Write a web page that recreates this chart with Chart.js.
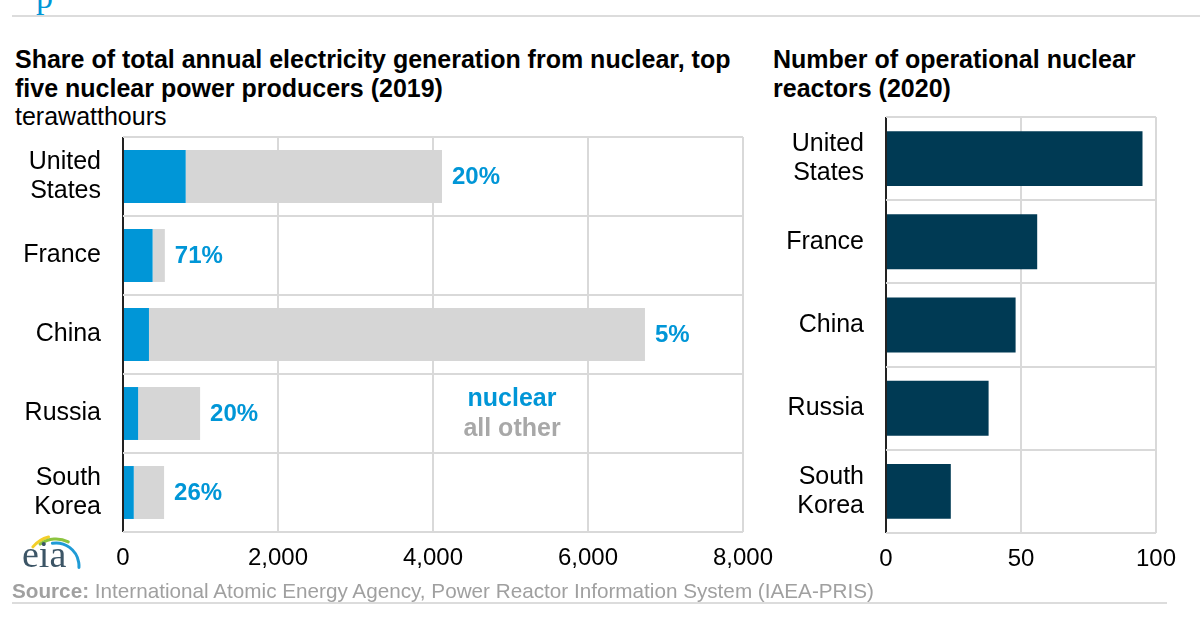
<!DOCTYPE html>
<html>
<head>
<meta charset="utf-8">
<script src="https://cdn.jsdelivr.net/npm/chart.js@4"></script>
<style>
  body { margin: 0; width: 1200px; height: 620px; background: #fff; position: relative; overflow: hidden;
         font-family: "Liberation Sans", Arial, sans-serif; }
  .abs { position: absolute; white-space: nowrap; }
  .title { font-weight: bold; font-size: 25px; line-height: 29px; color: #000; }
  canvas { position: absolute; }
</style>
</head>
<body>

<div class="abs" style="left:36px; top:-22px; font-family:'Liberation Serif',serif; font-size:34px; color:#0096d7;">p</div>
<div class="abs" style="left:12px; top:15px; width:1188px; height:2px; background:#dcdcdc;"></div>

<div class="abs title" style="left:15px; top:45px;">Share of total annual electricity generation from nuclear, top<br>five nuclear power producers (2019)</div>
<div class="abs" style="left:15px; top:102px; font-size:25px; line-height:29px;">terawatthours</div>

<div class="abs title" style="left:773px; top:45px;">Number of operational nuclear<br>reactors (2020)</div>

<canvas id="shareChart" width="780" height="460" style="left:0; top:130px;"></canvas>
<canvas id="reactorChart" width="430" height="480" style="left:770px; top:110px;"></canvas>

<div class="abs" style="left:412px; top:382px; width:200px; text-align:center; font-weight:bold; font-size:25px; line-height:30px;">
  <span style="color:#0096d7;">nuclear</span><br><span style="color:#a8a8a8;">all other</span>
</div>

<canvas id="eiaLogo" width="80" height="56" style="left:10px; top:522px;"></canvas>

<div class="abs" style="left:12px; top:579px; font-size:20.7px; color:#a0a0a0;"><b>Source:</b> International Atomic Energy Agency, Power Reactor Information System (IAEA-PRIS)</div>
<div class="abs" style="left:12px; top:602px; width:1155px; height:2px; background:#dcdcdc;"></div>

<script>
const COUNTRIES = [['United', 'States'], 'France', 'China', 'Russia', ['South', 'Korea']];
const NUCLEAR_TWH = [809, 382, 335, 195, 139];
const OTHER_TWH = [3307, 158, 6400, 800, 391];
const NUCLEAR_SHARE = ['20%', '71%', '5%', '20%', '26%'];
const REACTORS = [95, 56, 48, 38, 24];
const TWH_TICKS = [0, 2000, 4000, 6000, 8000];
const REACTOR_TICKS = [0, 50, 100];

const BLUE = '#0096d7';
const GREY = '#d6d6d6';
const NAVY = '#003a54';
const GRID = '#d9d9d9';
const FONT = "'Liberation Sans', Arial, sans-serif";

Chart.defaults.font.family = FONT;
Chart.defaults.color = '#000';

// percentage label to the right of each total bar
const shareLabels = {
    id: 'shareLabels',
    afterDatasetsDraw(chart) {
        const ctx = chart.ctx;
        const meta = chart.getDatasetMeta(1);
        ctx.save();
        ctx.font = 'bold 24px ' + FONT;
        ctx.fillStyle = BLUE;
        ctx.textAlign = 'left';
        ctx.textBaseline = 'middle';
        meta.data.forEach((bar, i) => {
            ctx.fillText(NUCLEAR_SHARE[i], bar.x + 10, bar.y + 1);
        });
        ctx.restore();
    }
};

const xAxis = (ticks, height) => ({
    min: ticks[0],
    max: ticks[ticks.length - 1],
    afterBuildTicks: (scale) => { scale.ticks = ticks.map(v => ({ value: v })); },
    afterFit: (scale) => {
        scale.height = height;
        scale.paddingLeft = 0;
        scale.paddingRight = 0;
    },
    border: { display: false },
    grid: {
        drawTicks: false,
        color: (c) => c.index === 0 ? '#222' : GRID,
        lineWidth: 2
    },
    ticks: {
        padding: 12,
        font: { size: 24 },
        color: '#000',
        callback: (v) => v.toLocaleString('en-US')
    }
});

const yAxis = (width) => ({
    afterFit: (scale) => {
        scale.width = width;
        scale.paddingTop = 0;
        scale.paddingBottom = 0;
    },
    border: { display: false },
    grid: { drawTicks: false, color: GRID, lineWidth: 2, offset: true },
    ticks: { padding: 22, font: { size: 25, lineHeight: 1.16 }, color: '#000' }
});

const shareX = xAxis(TWH_TICKS, 58);
shareX.stacked = true;
const shareY = yAxis(123);
shareY.stacked = true;

new Chart(document.getElementById('shareChart'), {
    type: 'bar',
    data: {
        labels: COUNTRIES,
        datasets: [
            { label: 'nuclear', data: NUCLEAR_TWH, backgroundColor: BLUE },
            { label: 'all other', data: OTHER_TWH, backgroundColor: GREY }
        ]
    },
    options: {
        indexAxis: 'y',
        responsive: false,
        animation: false,
        categoryPercentage: 1,
        barPercentage: 0.67,
        layout: { padding: { top: 7, right: 37, left: 0, bottom: 0 } },
        plugins: { legend: { display: false }, tooltip: { enabled: false } },
        scales: { x: shareX, y: shareY }
    },
    plugins: [shareLabels]
});

new Chart(document.getElementById('reactorChart'), {
    type: 'bar',
    data: {
        labels: COUNTRIES,
        datasets: [{ label: 'reactors', data: REACTORS, backgroundColor: NAVY }]
    },
    options: {
        indexAxis: 'y',
        responsive: false,
        animation: false,
        categoryPercentage: 1,
        barPercentage: 0.66,
        layout: { padding: { top: 7, right: 44, left: 0, bottom: 0 } },
        plugins: { legend: { display: false }, tooltip: { enabled: false } },
        scales: { x: xAxis(REACTOR_TICKS, 57), y: yAxis(116) }
    }
});

// eia logo
(function () {
    const ctx = document.getElementById('eiaLogo').getContext('2d');
    ctx.lineCap = 'round';
    const arc = (color, r, a0, a1, w) => {
        ctx.beginPath();
        ctx.strokeStyle = color;
        ctx.lineWidth = w;
        ctx.arc(46, 44, r, a0, a1);
        ctx.stroke();
    };
    arc('#f3cf2a', 30, Math.PI * 1.22, Math.PI * 1.42, 3);
    arc('#8cc43f', 27, Math.PI * 1.3, Math.PI * 1.65, 3);
    arc('#1f9bd6', 23, Math.PI * 1.45, Math.PI * 2.02, 3);
    ctx.font = "38px 'Liberation Serif', serif";
    ctx.fillStyle = '#3c5566';
    ctx.fillText('eia', 12, 45);
})();
</script>
</body>
</html>
